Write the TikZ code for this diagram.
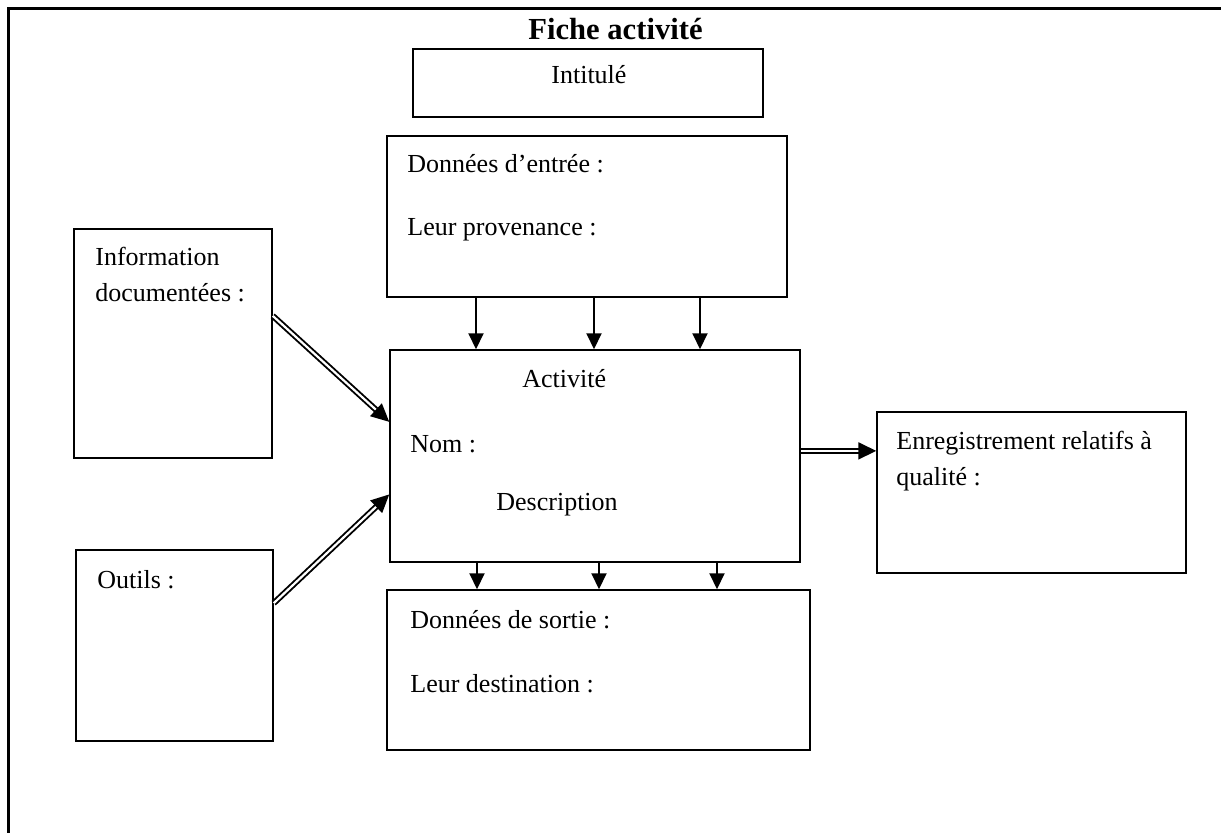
\documentclass[tikz,border=0pt]{standalone}
\usepackage{fontspec}
\setmainfont{Liberation Serif}
\usetikzlibrary{arrows.meta,calc,fit}

\begin{document}
\begin{tikzpicture}[x=0.5pt,y=-0.5pt,
  box/.style={draw=black,line width=0.75pt,inner sep=0pt,fill=none},
  txt/.style={anchor=base west,inner sep=0pt,font=\fontsize{13pt}{18pt}\selectfont},
  flow/.style={draw=black,line width=1pt,-{Triangle[length=8pt,width=7.5pt]}},
  dflow/.style={draw=black,line width=0.95pt,double=white,double distance=1.1pt,
                -{Triangle[length=9pt,width=8.5pt]}}]

  \useasboundingbox (0,0) rectangle (1221,832);
  \fill[white] (0,0) rectangle (1221,832);

  % outer frame, running past the right and bottom edges
  \begin{scope}
    \clip (0,0) rectangle (1221,832);
    \draw[line width=1.1pt] (8.5,8.5) rectangle (1260,870);
  \end{scope}

  % title
  \node[anchor=base west,inner sep=0pt,font=\fontsize{15.3pt}{18pt}\selectfont\bfseries]
    (title) at (528,39) {Fiche activité};

  % boxes
  \node[box,fit={(413,49) (763,117)}] (intit) {};
  \node[box,fit={(387,136) (787,297)}] (din) {};
  \node[box,fit={(74,229) (272,458)}] (info) {};
  \node[box,fit={(390,350) (800,562)}] (act) {};
  \node[box,fit={(877,412) (1186,573)}] (enr) {};
  \node[box,fit={(76,550) (273,741)}] (outil) {};
  \node[box,fit={(387,590) (810,750)}] (dout) {};

  % texts
  \node[txt] (tIntit) at (551,83) {Intitulé};
  \node[txt] (tDin1) at (407,172) {Données d’entrée :};
  \node[txt] (tDin2) at (407,235) {Leur provenance :};
  \node[txt] (tInfo1) at (95,265) {Information};
  \node[txt] (tInfo2) at (95,301) {documentées :};
  \node[txt] (tAct1) at (522,387) {Activité};
  \node[txt] (tAct2) at (410,452) {Nom :};
  \node[txt] (tAct3) at (496,510) {Description};
  \node[txt] (tEnr1) at (896,449) {Enregistrement relatifs à};
  \node[txt] (tEnr2) at (896,485) {qualité :};
  \node[txt] (tOut) at (97,588) {Outils :};
  \node[txt] (tDout1) at (410,628) {Données de sortie :};
  \node[txt] (tDout2) at (410,692) {Leur destination :};

  % incoming data -> activity
  \foreach \xx in {476,594,700}
    \draw[flow] (din.south -| \xx,0) -- (act.north -| \xx,0);

  % activity -> outgoing data
  \foreach \xx in {477,599,717}
    \draw[flow] (act.south -| \xx,0) -- (dout.north -| \xx,0);

  % resources -> activity, activity -> records
  \draw[dflow] ($(info.north east)!0.38!(info.south east)$)
            -- ($(act.north west)!0.34!(act.south west)$);
  \draw[dflow] ($(outil.north east)!0.28!(outil.south east)$)
            -- ($(act.north west)!0.68!(act.south west)$);
  \draw[dflow] ($(act.north east)!0.476!(act.south east)$)
            -- (enr.west |- {$(act.north east)!0.476!(act.south east)$});
\end{tikzpicture}
\end{document}
